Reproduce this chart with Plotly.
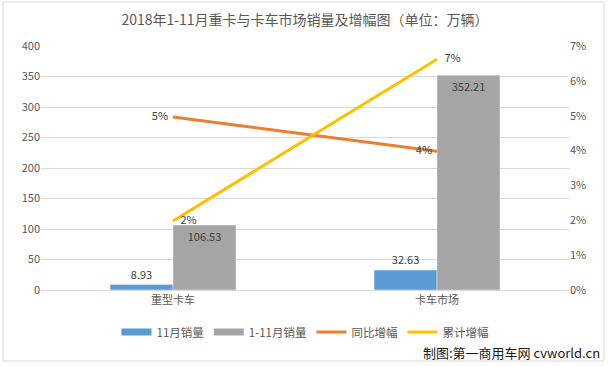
import plotly.graph_objects as go

categories = ["重型卡车", "卡车市场"]
nov_sales = [8.93, 32.63]
ytd_sales = [106.53, 352.21]
yoy_growth = [0.0496, 0.0398]
cum_growth = [0.0198, 0.0662]

FONT = "Noto Sans CJK SC, Liberation Sans, sans-serif"
GREY_TXT = "#595959"
BLUE, GREY, ORANGE, YELLOW = "#5B9BD5", "#A5A5A5", "#ED7D31", "#FFC000"

W, H = 610, 366
L, R, T, B = 41, 41, 46, 76
pw, ph = W - L - R, H - T - B


def px_x(px):
    return (px - L) / pw


def px_y(py):
    return (H - B - py) / ph


fig = go.Figure()
fig.add_trace(go.Bar(
    x=categories, y=nov_sales, name="11月销量", marker_color=BLUE,
    text=[f"{v:.2f}" for v in nov_sales], textposition="outside",
    textfont=dict(color="#404040", size=11), cliponaxis=False, showlegend=False,
))
fig.add_trace(go.Bar(
    x=categories, y=ytd_sales, name="1-11月销量", marker_color=GREY,
    text=[f"{v:.2f}" for v in ytd_sales], textposition="inside",
    insidetextanchor="end",
    textfont=dict(color="#404040", size=11), showlegend=False,
))
fig.add_trace(go.Scatter(
    x=categories, y=yoy_growth, name="同比增幅", mode="lines+text",
    line=dict(color=ORANGE, width=3), yaxis="y2",
    texttemplate="%{y:.0%}  ", textposition="middle left",
    textfont=dict(color="#404040", size=11), cliponaxis=False, showlegend=False,
))
fig.add_trace(go.Scatter(
    x=categories, y=cum_growth, name="累计增幅", mode="lines+text",
    line=dict(color=YELLOW, width=3), yaxis="y2",
    texttemplate="   %{y:.0%}", textposition="middle right",
    textfont=dict(color="#404040", size=11), cliponaxis=False, showlegend=False,
))

# legend entries (Excel-style wide swatches)
for name, color, w in [("11月销量", BLUE, 7), ("1-11月销量", GREY, 7),
                       ("同比增幅", ORANGE, 3), ("累计增幅", YELLOW, 3)]:
    fig.add_trace(go.Scatter(x=[None], y=[None], mode="lines", name=name,
                             line=dict(color=color, width=w)))

fig.update_layout(
    width=W, height=H,
    margin=dict(l=L, r=R, t=T, b=B, autoexpand=False),
    paper_bgcolor="white", plot_bgcolor="white",
    font=dict(family=FONT, color=GREY_TXT, size=11),
    barmode="group", bargap=0.523, bargroupgap=0,
    title=dict(text="2018年1-11月重卡与卡车市场销量及增幅图（单位：万辆）",
               x=0.5, xanchor="center", y=1 - 20 / H, yanchor="middle",
               font=dict(size=14, color=GREY_TXT, family=FONT)),
    xaxis=dict(showgrid=False, showline=True, linecolor="#D9D9D9", linewidth=1,
               ticks="", tickfont=dict(size=11, color=GREY_TXT)),
    yaxis=dict(range=[0, 400], dtick=50, showgrid=True, gridcolor="#D9D9D9",
               zeroline=False, showline=False, ticks="",
               tickfont=dict(size=11, color=GREY_TXT)),
    yaxis2=dict(range=[0, 0.07], dtick=0.01, tickformat=".0%", overlaying="y",
                side="right", showgrid=False, zeroline=False, showline=False,
                tickfont=dict(size=11, color=GREY_TXT)),
    legend=dict(orientation="h", x=0.5, xanchor="center",
                y=px_y(332), yanchor="middle",
                font=dict(size=11.5, color=GREY_TXT), itemwidth=30,
                traceorder="normal"),
    showlegend=True,
)

fig.add_annotation(
    text="制图:第一商用车网 cvworld.cn", xref="paper", yref="paper",
    x=px_x(602), y=px_y(352), xanchor="right", yanchor="middle",
    showarrow=False, font=dict(size=13, color="#1a1a1a", family=FONT),
)

fig.add_shape(
    type="rect", xref="paper", yref="paper",
    x0=px_x(3), x1=px_x(604), y0=px_y(361), y1=px_y(2),
    line=dict(color="#D9D9D9", width=1), fillcolor="rgba(0,0,0,0)",
)

fig.write_html(
    "out.html",
    config={"displayModeBar": False},
    post_script="document.body.style.margin='0';document.body.style.overflow='hidden';",
)
